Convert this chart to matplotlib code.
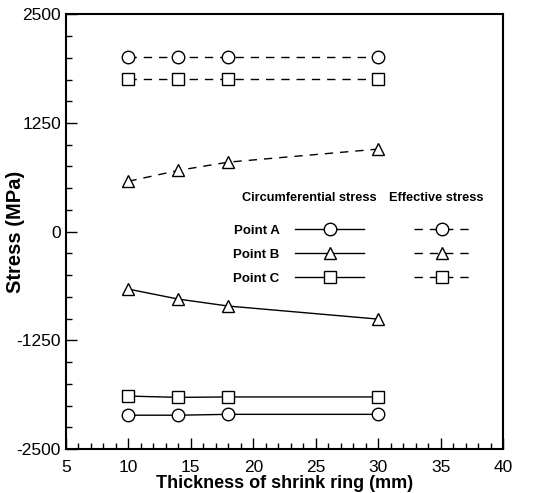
import matplotlib
matplotlib.use("Agg")
import matplotlib.pyplot as plt
from matplotlib.lines import Line2D
from matplotlib.ticker import MultipleLocator

plt.rcParams["font.family"] = ["Liberation Sans", "DejaVu Sans"]
plt.rcParams["axes.unicode_minus"] = False

# thickness of shrink ring (mm)
thickness = [10, 14, 18, 30]

# circumferential stress (MPa)
circ_a = [-2110, -2110, -2100, -2100]
circ_b = [-660, -775, -855, -1005]
circ_c = [-1890, -1905, -1900, -1900]

# effective stress (MPa)
eff_a = [2005, 2005, 2005, 2005]
eff_b = [580, 705, 800, 950]
eff_c = [1755, 1755, 1755, 1755]

point_labels = ["Point A", "Point B", "Point C"]
markers = ["o", "^", "s"]

fig = plt.figure(figsize=(5.59, 4.93), dpi=100)
ax = fig.add_axes([0.118, 0.089, 0.782, 0.882])

mk = dict(markersize=9, markerfacecolor="white", markeredgecolor="black",
          markeredgewidth=1.0, color="black")
dash = (0, (6, 5))

for ys, m in zip([circ_a, circ_b, circ_c], markers):
    ax.plot(thickness, ys, marker=m, linestyle="-", linewidth=1.0, **mk)
for ys, m in zip([eff_a, eff_b, eff_c], markers):
    ax.plot(thickness, ys, marker=m, linestyle=dash, linewidth=1.0, **mk)

ax.set_xlim(5, 40)
ax.set_ylim(-2500, 2500)
ax.xaxis.set_major_locator(MultipleLocator(5))
ax.xaxis.set_minor_locator(MultipleLocator(1))
ax.yaxis.set_major_locator(MultipleLocator(1250))
ax.yaxis.set_minor_locator(MultipleLocator(250))
ax.tick_params(which="both", direction="in", top=False, right=False,
               labelsize=12.5, width=1.0)
ax.tick_params(which="major", length=8)
ax.tick_params(which="minor", length=4)
ax.tick_params(axis="x", pad=8)
for s in ax.spines.values():
    s.set_linewidth(1.5)

ax.set_xlabel("Thickness of shrink ring (mm)", fontsize=13, fontweight="bold",
              labelpad=0)
ax.set_ylabel("Stress (MPa)", fontsize=14.5, fontweight="bold")
ax.yaxis.set_label_coords(-0.094, 0.5)

# legend: two columns of samples, headers as text
circ_handles = [Line2D([], [], marker=m, linestyle="-", linewidth=1.0, **mk)
                for m in markers]
eff_handles = [Line2D([], [], marker=m, linestyle=dash, linewidth=1.0, **mk)
               for m in markers]
lkw = dict(frameon=False, handlelength=5.2, labelspacing=0.9, borderpad=0,
           borderaxespad=0, prop={"weight": "bold", "size": 9.5})
leg1 = ax.legend(circ_handles, point_labels, markerfirst=False,
                 loc="upper left", bbox_to_anchor=(0.383, 0.517),
                 handletextpad=1.2, **lkw)
ax.add_artist(leg1)
ax.legend(eff_handles, ["", "", ""], loc="upper left",
          bbox_to_anchor=(0.797, 0.517), handletextpad=0,
          **dict(lkw, handlelength=4.2))

ax.text(0.556, 0.577, "Circumferential stress", transform=ax.transAxes,
        ha="center", va="center", fontsize=9.2, fontweight="bold")
ax.text(0.848, 0.577, "Effective stress", transform=ax.transAxes,
        ha="center", va="center", fontsize=9.2, fontweight="bold")

fig.savefig("out.png", dpi=100)
